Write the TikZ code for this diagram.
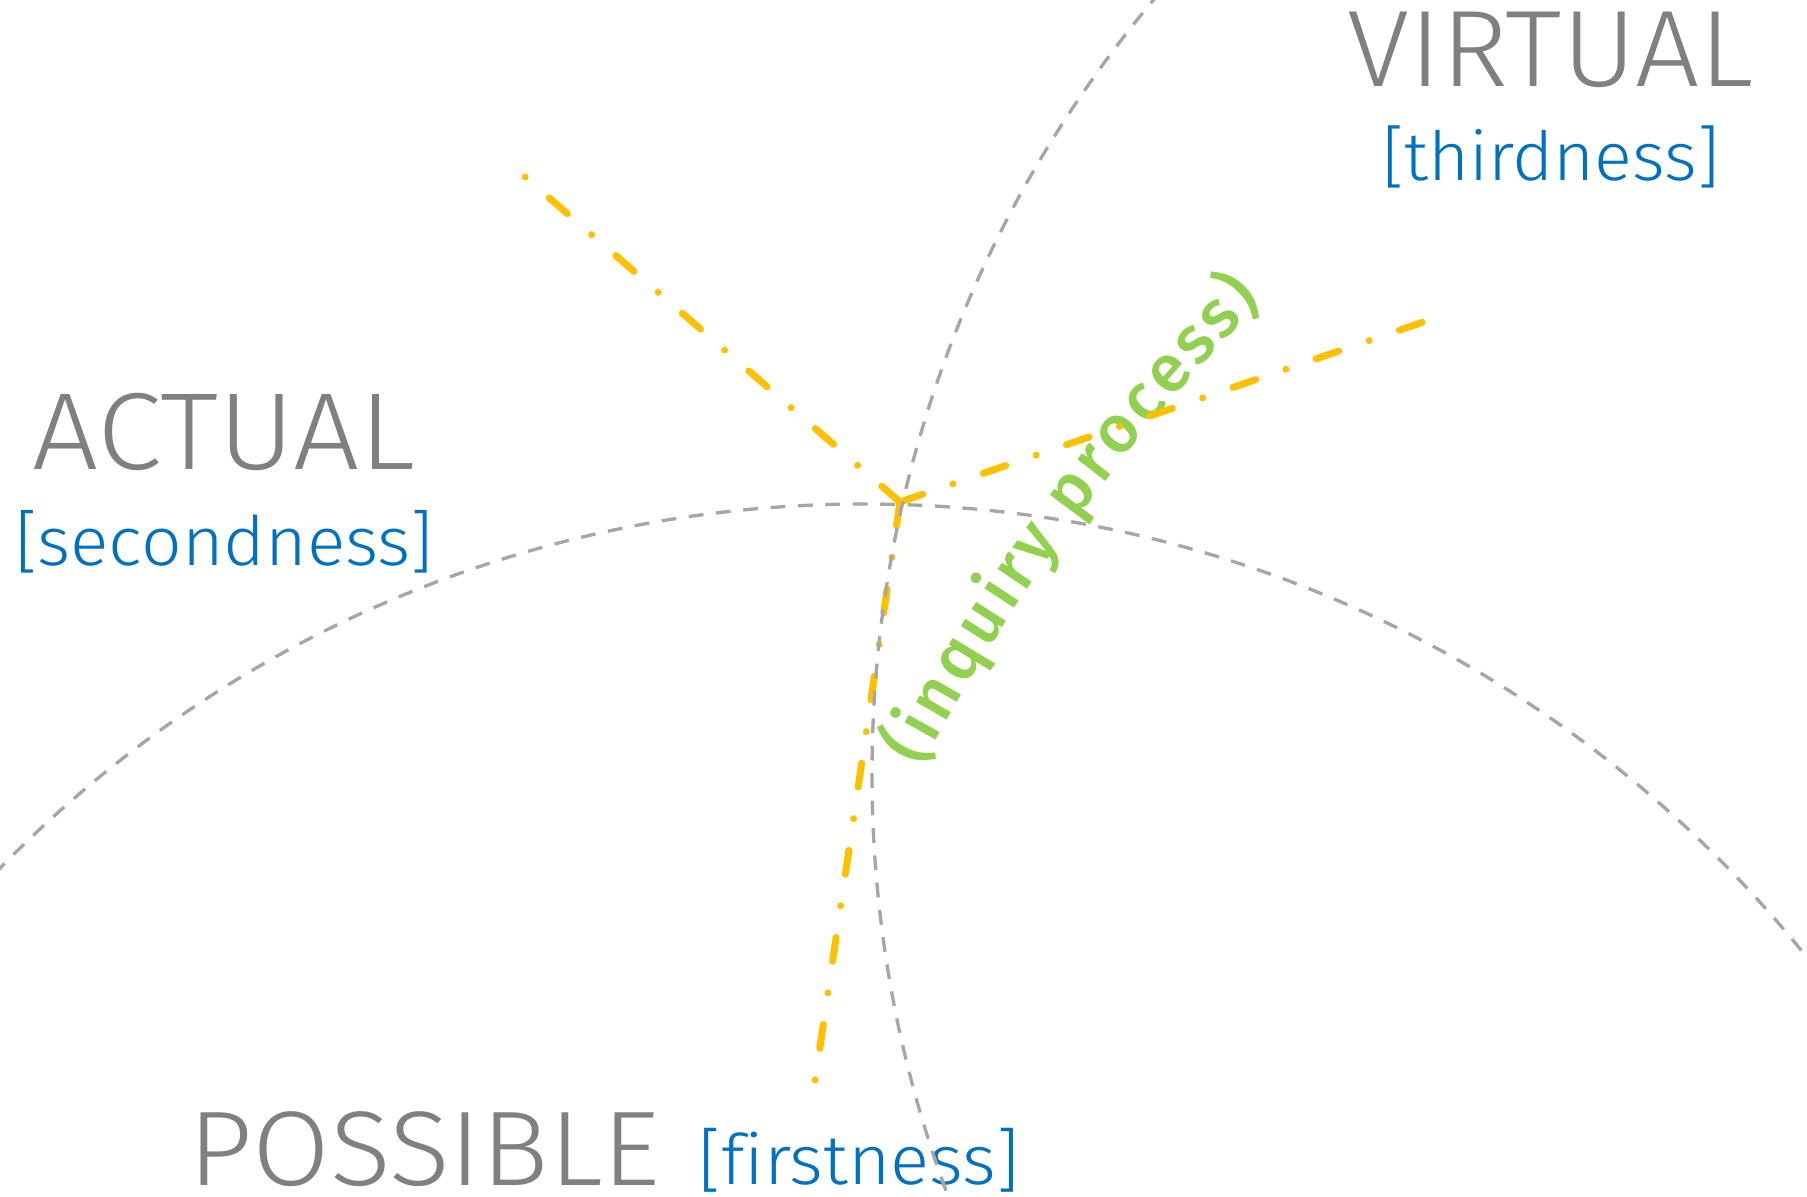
\documentclass[tikz,border=0pt]{standalone}
\usepackage{fontspec}
\usepackage{graphicx}
\usetikzlibrary{decorations.text}
\IfFontExistsTF{Fira Sans Light}{\newfontfamily\dinfont[Ligatures=NoCommon]{Fira Sans Light}}{\newfontfamily\dinfont[Ligatures=NoCommon]{Fira Sans}}
\IfFontExistsTF{Fira Sans Medium}{\newfontfamily\handfont{Fira Sans Medium}}{\newfontfamily\handfont[UprightFont=*-Bold]{Fira Sans}}
\definecolor{lblgray}{HTML}{808080}
\definecolor{lblblue}{HTML}{0070C0}
\definecolor{inqgreen}{HTML}{92D050}
\definecolor{inqyellow}{HTML}{FFC000}
\definecolor{arcgray}{HTML}{A6A6A6}
\begin{document}
\begin{tikzpicture}[x=0.01cm,y=0.01cm,
  title/.style={inner sep=0pt, outer sep=0pt, anchor=north west, text=lblgray, font=\dinfont},
  subtitle/.style={inner sep=0pt, outer sep=0pt, anchor=north west, text=lblblue, font=\dinfont},
  inq/.style={draw=inqyellow, line width=1.99pt, line cap=round,
    dash pattern=on 6.83pt off 9.1pt on 0pt off 9.1pt},
  arcline/.style={draw=arcgray, line width=0.95pt, dash pattern=on 4.2pt off 3.6pt}]

\useasboundingbox (0,0) rectangle (1807,1196);

% labels
\node[title] (virtual) at (1347,1184.3) {\resizebox*{4.06cm}{0.756cm}{VIRTUAL}};
\node[subtitle] (third) at (1382,1070) {\resizebox*{3.37cm}{0.623cm}{[thirdness]}};
\node[title] (actual) at (32,802.7) {\resizebox*{3.83cm}{0.774cm}{ACTUAL}};
\node[subtitle] (second) at (15,686) {\resizebox*{4.18cm}{0.627cm}{[secondness]}};
\node[title] (possible) at (188,84) {\resizebox*{4.72cm}{0.75cm}{POSSIBLE}};
\node[subtitle] (first) at (698,68) {\resizebox*{3.21cm}{0.64cm}{[firstness]}};

% inquiry process text
\path[decorate, decoration={text along path, text color=inqgreen,
   text={|\handfont\fontsize{19pt}{21pt}\selectfont|(inquiry process)},
   text align={fit to path}}]
  (2710.5,-522.8) ++(152.0:2027) arc[start angle=152.0, end angle=135.6, radius=2027];

% yellow dash-dot lines
\coordinate (J) at (900,694);
\coordinate (E1) at (524,1020);
\coordinate (E2) at (1429,876);
\coordinate (E3) at (815,115);
\draw[inq] (J) -- (E1);
\draw[inq] (J) -- (E2);
\draw[inq] (J) -- (E3);

% gray dashed arcs
\begin{scope}
\clip (0,0) rectangle (1807,1196);
\draw[arcline] (864,-515) circle[radius=1207];
\draw[arcline] (2077,422) circle[radius=1205];
\end{scope}
\end{tikzpicture}
\end{document}
